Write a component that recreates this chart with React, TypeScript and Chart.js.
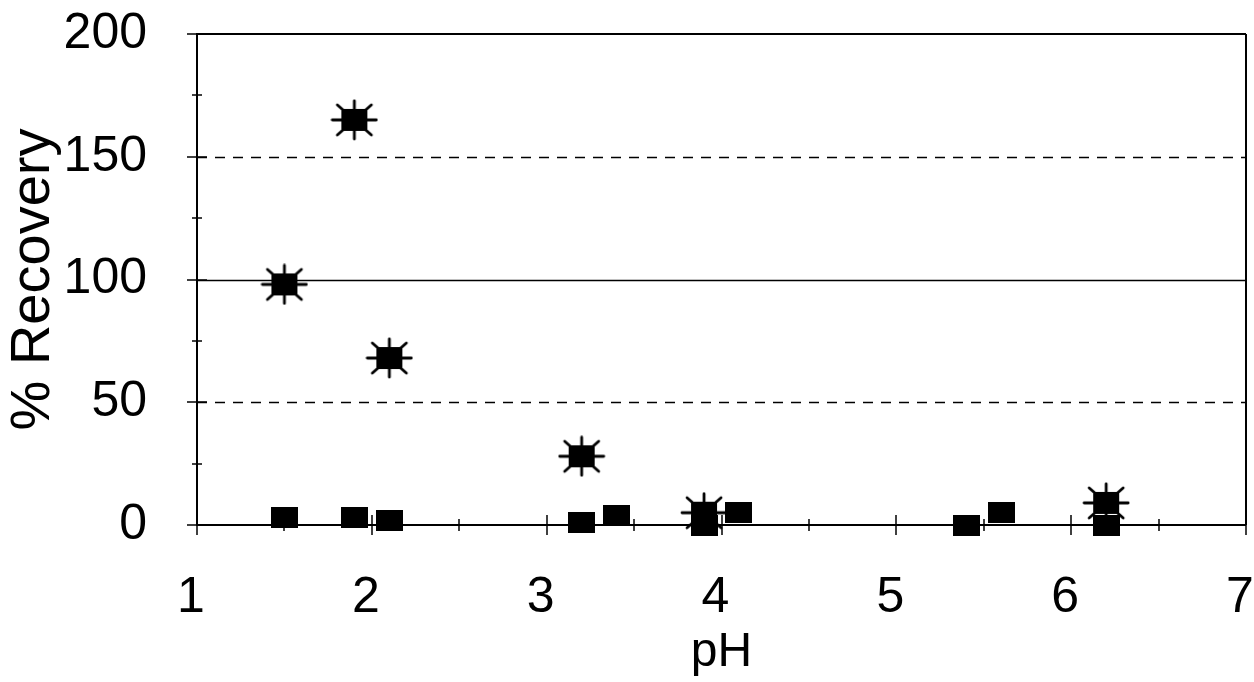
import React, { useEffect, useRef } from "react";
import { Chart, registerables } from "chart.js";

Chart.register(...registerables);

// ---- data ----
const phSquares = [1.5, 1.9, 2.1, 3.2, 3.4, 3.9, 4.1, 5.4, 5.6, 6.2];
const recoverySquares = [3, 3, 2, 1, 4, 0, 5, 0, 5, 0];
const phStars = [1.5, 1.9, 2.1, 3.2, 3.9, 6.2];
const recoveryStars = [98, 165, 68, 28, 5, 9];

const xMin = 1;
const xMax = 7;
const xMajorStep = 1;
const xMinorStep = 0.5;
const yMin = 0;
const yMax = 200;
const yMajorStep = 50;
const yMinorStep = 25;
const dashedLevels = [50, 150];
const solidLevels = [100];

const xTitle = "pH";
const yTitle = "% Recovery";

const FONT = "'Liberation Sans', Arial, sans-serif";

function makeSquare(): HTMLCanvasElement {
  const c = document.createElement("canvas");
  c.width = 27;
  c.height = 21;
  const g = c.getContext("2d")!;
  g.fillStyle = "#000";
  g.fillRect(0, 0, 27, 21);
  return c;
}

function makeStar(): HTMLCanvasElement {
  const w = 48;
  const h = 42;
  const c = document.createElement("canvas");
  c.width = w;
  c.height = h;
  const g = c.getContext("2d")!;
  const cx = w / 2;
  const cy = h / 2;
  g.fillStyle = "#000";
  g.fillRect(cx - 13, cy - 11, 26, 22);
  g.strokeStyle = "#000";
  g.lineWidth = 2.8;
  g.lineCap = "round";
  const rays: [number, number][] = [
    [22, 0],
    [-22, 0],
    [0, 19],
    [0, -19],
    [17, 15],
    [-17, 15],
    [17, -15],
    [-17, -15],
  ];
  rays.forEach(([dx, dy]) => {
    g.beginPath();
    g.moveTo(cx, cy);
    g.lineTo(cx + dx, cy + dy);
    g.stroke();
  });
  return c;
}

const framePlugin = {
  id: "framePlugin",
  beforeDatasetsDraw(chart: any) {
    const { ctx, chartArea, scales } = chart;
    const { left, right, top, bottom } = chartArea;
    const x = scales.x;
    const y = scales.y;
    const line = (x1: number, y1: number, x2: number, y2: number) => {
      ctx.beginPath();
      ctx.moveTo(x1, y1);
      ctx.lineTo(x2, y2);
      ctx.stroke();
    };
    ctx.save();
    ctx.strokeStyle = "#000";
    ctx.lineWidth = 1.5;
    ctx.setLineDash([10, 8]);
    dashedLevels.forEach((v) => {
      const py = Math.round(y.getPixelForValue(v)) + 0.5;
      line(left, py, right, py);
    });
    ctx.setLineDash([]);
    solidLevels.forEach((v) => {
      const py = Math.round(y.getPixelForValue(v)) + 0.5;
      line(left, py, right, py);
    });
    ctx.lineWidth = 2;
    line(left, top, right, top);
    line(right, top, right, bottom);
    line(left, top - 1, left, bottom + 1);
    line(left, bottom, right, bottom);
    ctx.lineWidth = 1.5;
    for (let v = yMin; v <= yMax + 1e-9; v += yMinorStep) {
      const major = Math.abs(v / yMajorStep - Math.round(v / yMajorStep)) < 1e-6;
      const len = major ? 10 : 5;
      const py = Math.round(y.getPixelForValue(v));
      line(left - len, py, left + len, py);
    }
    for (let p = xMin; p <= xMax + 1e-9; p += xMinorStep) {
      const major = Math.abs(p / xMajorStep - Math.round(p / xMajorStep)) < 1e-6;
      const len = major ? 10 : 6;
      const px = Math.round(x.getPixelForValue(p));
      line(px, bottom - len, px, bottom + len);
    }
    ctx.restore();
  },
};

function zeroPadding(scale: any) {
  scale.paddingTop = 0;
  scale.paddingBottom = 0;
  scale.paddingLeft = 0;
  scale.paddingRight = 0;
}

export default function App() {
  const ref = useRef<HTMLCanvasElement | null>(null);

  useEffect(() => {
    if (!ref.current) return;
    const square = makeSquare();
    const star = makeStar();
    const chart = new Chart(ref.current, {
      type: "scatter",
      data: {
        datasets: [
          {
            label: "Series A",
            data: phSquares.map((p, i) => ({ x: p, y: recoverySquares[i] })),
            pointStyle: square as any,
            pointRadius: 14,
            backgroundColor: "#000",
            borderColor: "#000",
            clip: false as any,
          },
          {
            label: "Series B",
            data: phStars.map((p, i) => ({ x: p, y: recoveryStars[i] })),
            pointStyle: star as any,
            pointRadius: 20,
            backgroundColor: "#000",
            borderColor: "#000",
            clip: false as any,
          },
        ],
      },
      options: {
        responsive: false,
        animation: false,
        layout: {
          autoPadding: false,
          padding: { top: 34, right: 8, left: 0, bottom: 0 },
        },
        plugins: {
          legend: { display: false },
          tooltip: { enabled: false },
        },
        scales: {
          x: {
            type: "linear",
            min: xMin,
            max: xMax,
            grid: { display: false },
            border: { display: false },
            ticks: {
              stepSize: xMajorStep,
              color: "#000",
              padding: 35,
              labelOffset: -6,
              font: { family: FONT, size: 50 },
            },
            title: {
              display: true,
              text: xTitle,
              color: "#000",
              font: { family: FONT, size: 48 },
              padding: { top: 0, bottom: 0 },
            },
            afterFit(scale: any) {
              scale.height = 157;
              zeroPadding(scale);
            },
          },
          y: {
            type: "linear",
            min: yMin,
            max: yMax,
            grid: { display: false },
            border: { display: false },
            ticks: {
              stepSize: yMajorStep,
              color: "#000",
              padding: 42,
              font: { family: FONT, size: 50 },
            },
            title: {
              display: true,
              text: yTitle,
              color: "#000",
              font: { family: FONT, size: 56 },
              padding: { top: 0, bottom: 0 },
            },
            afterFit(scale: any) {
              scale.width = 197;
              zeroPadding(scale);
            },
          },
        },
      },
      plugins: [framePlugin],
    });
    return () => chart.destroy();
  }, []);

  return (
    <div
      style={{
        position: "absolute",
        left: 0,
        top: 0,
        width: 1254,
        height: 682,
        background: "#fff",
      }}
    >
      <canvas ref={ref} width={1254} height={682} style={{ display: "block" }} />
    </div>
  );
}
